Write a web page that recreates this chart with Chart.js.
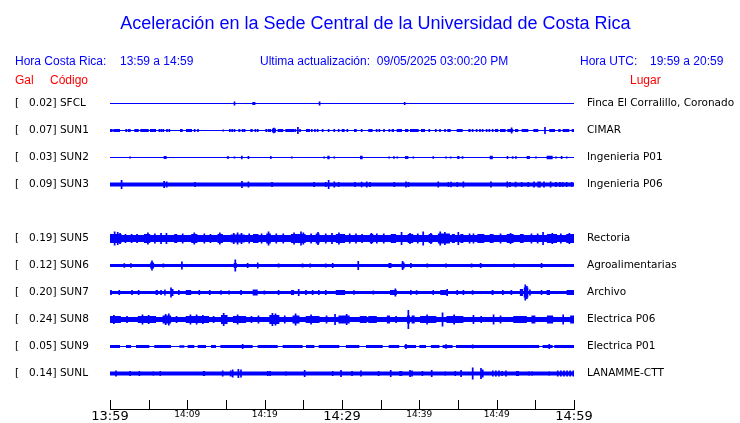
<!DOCTYPE html>
<html><head><meta charset="utf-8">
<script src="https://cdn.jsdelivr.net/npm/chart.js@4/dist/chart.umd.min.js"></script>
<style>
html,body{margin:0;padding:0;background:#fff;}
#wrap{position:relative;width:740px;height:423px;overflow:hidden;background:#fff;}
#c{position:absolute;left:0;top:0;}
.t{position:absolute;font-family:"Liberation Sans",Arial,sans-serif;white-space:pre;line-height:1;}
.b{color:#0000ff;font-size:12px;}
.r{color:#ff0000;font-size:12px;}
</style></head><body>
<div id="wrap">
<canvas id="c" width="740" height="423"></canvas>
<div class="t" style="left:0;width:751px;text-align:center;top:14px;font-size:18px;color:#0000ff">Aceleración en la Sede Central de la Universidad de Costa Rica</div>
<div class="t b" style="left:15px;top:55px">Hora Costa Rica:</div>
<div class="t b" style="left:120px;top:55px">13:59 a 14:59</div>
<div class="t b" style="left:260px;top:55px">Ultima actualización:  09/05/2025 03:00:20 PM</div>
<div class="t b" style="left:580px;top:55px">Hora UTC:</div>
<div class="t b" style="left:650px;top:55px">19:59 a 20:59</div>
<div class="t r" style="left:15px;top:74px">Gal</div>
<div class="t r" style="left:50px;top:74px">Código</div>
<div class="t r" style="left:630px;top:74px">Lugar</div>
</div>
<script>
// ---- data ----
const rowIndex = [0, 1, 2, 3, 5, 6, 7, 8, 9, 10];
const codes  = ['SFCL', 'SUN1', 'SUN2', 'SUN3', 'SUN5', 'SUN6', 'SUN7', 'SUN8', 'SUN9', 'SUNL'];
const gal    = [0.02, 0.07, 0.03, 0.09, 0.19, 0.12, 0.20, 0.24, 0.05, 0.14];
const places = ['Finca El Corralillo, Coronado', 'CIMAR', 'Ingenieria P01', 'Ingenieria P06',
                'Rectoria', 'Agroalimentarias', 'Archivo', 'Electrica P06', 'Electrica P01', 'LANAMME-CTT'];
const tickLabels = ['13:59', '', '14:09', '', '14:19', '', '14:29', '', '14:39', '', '14:49', '', '14:59'];
// background (noise) half-amplitude per trace
const baseAmp = [0.5, 0.5, 0.5, 2, 3.5, 1.5, 1.5, 2.5, 0.5, 2];
// events: [minute, amp] = short spike ; [startMinute, endMinute, amp] = burst
const evSFCL = [[16.1,2],[18.4,18.8,1.5],[27.1,2],[38.1,1.5]];
const evSUN1 = [[0,0.35,1.5],[0.43,1.29,1.5],[1.98,2.24,1.5],[2.33,2.67,1.5],[3.15,3.71,1.5],[3.92,5.0,1.5],[5.17,5.95,1.5],
 [6.38,1.5],[6.64,1.5],[6.9,1.5],[7.37,1.5],[7.67,1.5],[9.05,9.4,1.5],[9.83,10.6,1.5],[10.95,1.5],[11.38,1.5],[14.65,1],
 [15.5,1.5],[15.8,1.5],[16.1,1.5],[16.6,16.85,1.5],[17.15,1.5],[17.4,1.5],[18.15,18.45,1.5],[18.8,1.5],[19.1,1.5],[20.2,1.5],
 [20.5,1.5],[20.73,1.5],[20.95,21.46,2],[21.2,2.8],[21.68,22.4,1.5],[22.67,23.6,1.5],[23.7,1.5],[23.96,1.5],[24.3,3.5],[24.57,1.5],
 [25.34,25.86,1.5],[25.99,26.2,1.5],[26.5,1.5],[26.85,1.5],[27.5,1.5],[28.27,1.5],[29.0,1.5],[29.57,1.5],[29.96,30.34,1.5],
 [30.69,1.5],[31.55,31.9,1.5],[32.54,1.5],[33.4,33.96,1.5],[34.48,1.5],[34.83,1.5],[35.43,1.5],[36.12,1.5],[36.42,36.72,1.5],
 [37.07,37.76,1.5],[38.15,38.58,1.5],[38.79,39.91,1.5],[40.21,40.73,1.5],[41.29,1.5],[42.02,42.24,1.5],[42.67,1.5],[43.32,1.5],
 [43.62,44.05,1.5],[44.83,45.6,1.5],[46.33,46.63,1.5],[46.89,1.5],[47.41,1.5],[47.84,1.5],[48.19,1.5],[48.7,1.5],[49.05,1.5],
 [49.48,1.5],[49.78,50.21,1.5],[50.43,51.16,1.5],[51.38,52.15,1.5],[51.93,3],[52.37,52.8,1.5],[53.23,54.09,1.5],[54.74,55.38,1.5],
 [56.25,3.5],[56.8,57.54,1.5],[57.97,58.27,1.5],[58.53,59.39,1.5],[59.7,60,1.5]];
const evSUN2 = [[2.6,1],[6.94,7.33,1.5],[15.1,15.4,1.2],[16.1,1],[16.94,17.15,1.8],[17.9,1.5],[20.7,20.9,1.5],[23.5,1],[27.7,1],
 [28.1,28.4,1.8],[29.0,1],[32.33,32.67,1.7],[36.1,1],[36.72,1.2],[37.15,1],[38.15,38.58,1.5],[39.22,1],[41.8,1.2],[43.45,1],
 [44.05,1],[44.9,45.2,1.5],[45.47,45.7,1.3],[49.1,49.5,1.7],[51.3,51.5,1.5],[52.07,1.2],[52.37,52.6,1.3],[53.88,54.3,1.5],
 [55.08,1],[56.46,57.24,1.7],[57.67,1],[58.4,1.5],[59.05,1]];
const evSUN3 = [[1.5,4.5],[7.0,3.5],[7.33,3],[11.0,2.5],[17.07,3.5],[17.9,3],[20.95,2.5],[26.4,2.5],[27.9,2.5],[28.27,4.5],[29.0,3],
 [29.57,2.5],[31.68,2.5],[32.54,2.8],[33.2,3],[33.62,2.5],[36.77,2.5],[38.27,3],[38.58,2.5],[42.45,3],[43.75,2.5],[44.1,2.7],
 [44.9,2.5],[45.7,3],[49.26,3],[51.38,3],[51.72,2.5],[52.45,2.7],[53.23,2.5],[54.09,2.5],[54.82,3],[55.38,3],[55.6,3],[56.12,3],
 [56.98,3],[57.67,2.5],[58.18,2.5],[58.53,2.5],[59.05,2.5],[59.7,2.5]];
const evSUN5 = [[0,1.5,4.5],[0.6,7],[1.0,6.5],[1.3,5.5],[2.0,4.5],[2.8,4.5],[3.5,4.5],[4.4,5.2,4.5],[4.9,6],[5.8,5],[6.6,5.5],
 [7.3,5.5],[8.3,8.7,4.5],[9.4,5],[10.5,11.3,4.5],[10.9,6],[12.2,5],[13.0,4.5],[13.9,14.6,4.5],[14.2,6],[15.6,17.4,4],[16.0,5.5],[16.5,6],
 [17.0,5.5],[18.0,5],[18.5,19.2,4.5],[19.6,5],[20.2,20.8,5],[20.5,7],[21.5,5],[22.4,5],[23.4,25.3,4.5],[23.8,6],[24.7,7],[25.0,6],
 [26.0,5],[26.6,27.1,5],[26.9,6.5],[27.9,5],[28.7,5.5],[29.2,30.4,4.5],[29.6,6],[31.0,5],[31.8,5],[32.6,4.5],[33.6,34.05,4.5],[33.8,5.5],[34.5,5],
 [35.4,5],[36.3,37.0,4.5],[37.7,6.5],[38.5,39.2,4.5],[38.8,5.5],[39.8,5],[40.5,7],[41.2,41.7,4.5],[41.5,5.5],[42.4,43.96,5],[42.7,7],[43.3,6.5],
 [44.2,44.6,4.5],[45.04,6.5],[45.3,45.7,4.5],[46.5,5],[47.0,5],[47.5,48.4,4.5],[49.1,49.6,4.5],[50.5,5],[51.3,52.2,4.5],[51.8,5.5],[53.0,53.5,4.5],
 [54.5,5],[55.3,5],[56.0,6.5],[56.5,57.8,4.5],[57.2,5.5],[58.3,5],[59.0,60,4.5],[59.4,5.5]];
const evSUN6 = [[1.85,2.2],[2.7,2.2],[5.2,5.7,3],[5.43,5],[6.9,2],[9.2,9.4,3],[9.3,4],[16.2,6],[16.0,16.4,2.5],[17.8,2.5],
 [19.0,19.2,3],[21.8,2],[24.9,2],[25.9,2],[27.9,2],[28.8,2.5],[32.1,4.5],[36.0,36.4,2.5],[37.84,4.5],[37.7,38.1,3],[38.9,2.5],
 [41.03,2],[43.45,2],[46.76,2],[47.93,2.5],[52.24,2],[55.8,2.5]];
const evSUN7 = [[0.13,2.5],[1.2,2.5],[2.85,2.5],[3.7,2.5],[5.9,6.2,2.5],[6.6,2.5],[7.0,7.2,3],[7.89,5],[8.1,3.5],[8.9,2.5],
 [9.8,10.5,2.5],[11.55,2.5],[12.9,2.5],[14.35,2.2],[15.4,2],[16.94,2.5],[18.45,19.1,3],[19.96,2],[21.8,2.5],[23.4,23.8,2.5],
 [24.4,3.5],[25.34,2.5],[26.2,2.5],[27.0,2.5],[27.9,2.5],[29.2,30.4,2.5],[31.55,2.3],[34.05,2],[36.2,37.1,2.5],[36.9,4],
 [38.8,39.0,2.5],[39.65,2.2],[41.7,41.9,2.5],[42.7,43.5,2.5],[43.6,3.5],[44.9,2.5],[45.7,2.5],[46.9,2.2],[49.35,49.6,2.5],
 [50.8,2.5],[51.9,2.5],[53.0,53.4,3.5],[53.5,54.1,5],[53.7,8],[53.9,6.5],[54.3,3],[55.8,2.5],[56.46,56.9,2.5],[59.05,60,2.5]];
const evSUN8 = [[0,1.4,3.5],[0.5,4.5],[2.2,3.5],[3.6,5.95,3.5],[4.2,5],[5.0,4.5],[6.8,7.9,4],[7.2,5.5],[7.6,6],[8.6,3.5],
 [9.8,12.8,3.5],[10.4,5],[11.2,5],[12.0,4.5],[13.4,3.5],[14.35,15.2,4.5],[14.7,6.5],[15.9,17.6,3.5],[16.5,5],[18.3,3.5],[19.2,4],
 [20.6,21.9,4.5],[21.0,6.5],[21.4,6],[22.6,4],[23.6,24.5,4],[24.0,6],[25.3,27.1,3.5],[26.0,5],[28.0,4],[29.1,5.5],[29.65,4],
 [29.74,31.0,4],[30.6,5.5],[32.3,33.2,3.5],[33.4,34.5,3.5],[35.8,36.2,4],[37.0,3.5],[38.4,38.8,4],[38.58,9.5],[39.0,39.4,4],
 [40.1,42.2,3.5],[41.0,5],[43.0,7],[43.5,45.7,3.5],[44.5,5],[47.0,4.5],[48.0,3.5],[49.6,5],[50.5,4],[52.15,53.9,3.5],[54.5,55.0,4],
 [56.5,57.3,4],[58.6,5],[59.5,60,4]];
const evSUN9 = [[0,1.29,1.5],[2.07,2.72,1.5],[3.36,5.09,1.5],[5.73,7.89,1.5],[8.97,9.6,1.2],[10.04,10.9,1.5],[11.34,12.41,1.5],
 [13.06,13.71,1.5],[14.27,18.45,1.5],[17.15,2.5],[19.09,21.68,1.5],[22.33,24.91,1.5],[25.34,26.42,1.5],[26.98,29.65,1.5],
 [30.5,32.24,1.5],[33.1,35.26,1.5],[36.03,37.4,1.5],[38.06,39.57,1.5],[38.27,2.5],[40.0,40.86,1.5],[41.5,42.6,1.5],
 [43.0,44.3,1.5],[43.45,2.2],[44.74,55.5,1.5],[46.9,2],[55.94,57.24,1.5],[56.8,2.5],[57.45,60,1.5]];
const evSUNL = [[0.78,3],[2.6,2.5],[3.8,2.5],[5.6,2.2],[6.4,6.6,2.5],[12.0,12.3,2.5],[14.57,3],[15.6,3],[15.86,4],[16.6,4.5],
 [16.94,4],[20.4,2.5],[20.7,2.5],[22.76,2.2],[25.17,3.5],[28.8,2.5],[29.87,3.5],[31.3,2.5],[32.45,3],[34.74,2.5],[36.3,3.5],
 [37.4,37.8,2.5],[38.8,3.5],[39.05,3],[40.4,2.5],[41.6,3.5],[43.36,2.2],[44.65,2.5],[45.4,3.5],[46.9,6],[47.97,5.5],[48.2,4],
 [49.5,3],[49.9,3],[50.3,3],[50.7,2.5],[51.2,3],[52.5,52.9,2.5],[54.2,2.2],[54.6,2.2],[56.8,2.2],[57.9,3],[58.3,3],[58.7,3],
 [59.1,3],[59.5,3],[59.9,3]];
const events = [evSFCL, evSUN1, evSUN2, evSUN3, evSUN5, evSUN6, evSUN7, evSUN8, evSUN9, evSUNL];

// ---- build ----
const SPIKE_W = 0.22;     // minutes
const AMP_PER_ROW = 27;   // amplitude units per trace spacing
function envelope(base, evs) {
  const ev = evs.map(e => e.length === 2 ? [e[0] - SPIKE_W / 2, e[0] + SPIKE_W / 2, e[1]] : e);
  const bp = new Set([0, 60]);
  ev.forEach(e => { bp.add(Math.max(0, e[0])); bp.add(Math.min(60, e[1])); });
  const xs = [...bp].sort((a, b) => a - b);
  return xs.map((x, k) => {
    const probe = k < xs.length - 1 ? (x + xs[k + 1]) / 2 : x - 1e-6;
    let a = base;
    ev.forEach(e => { if (probe >= e[0] && probe <= e[1]) a = Math.max(a, e[2]); });
    return { x, a };
  });
}
const datasets = [];
rowIndex.forEach((r, i) => {
  const env = envelope(baseAmp[i], events[i]);
  [-1, 1].forEach(sgn => {
    datasets.push({
      label: codes[i] + (sgn < 0 ? '+' : '-'),
      data: env.map(p => ({ x: p.x, y: r + sgn * p.a / AMP_PER_ROW })),
      stepped: true, borderWidth: 0, borderColor: 'rgba(0,0,0,0)',
      backgroundColor: '#0000ff', pointRadius: 0, pointHoverRadius: 0, pointBorderWidth: 0,
      fill: sgn < 0 ? '+1' : false
    });
  });
});
const leftLabel = v => { const i = rowIndex.indexOf(Math.round(v)); return i < 0 ? '' : '[' + gal[i].toFixed(2).padStart(7, ' ') + '] ' + codes[i]; };
const rightLabel = v => { const i = rowIndex.indexOf(Math.round(v)); return i < 0 ? '' : places[i]; };

const tickMarks = {
  id: 'tickMarks',
  afterDraw(chart) {
    const s = chart.scales.x, ctx = chart.ctx, b = chart.chartArea.bottom;
    ctx.save(); ctx.strokeStyle = '#000'; ctx.lineWidth = 1;
    s.ticks.forEach(t => {
      const px = Math.round(s.getPixelForValue(t.value)) + 0.5;
      ctx.beginPath(); ctx.moveTo(px, b - 9); ctx.lineTo(px, b); ctx.stroke();
    });
    ctx.restore();
  }
};
const yRange = { min: -0.5, max: -0.5 + 319 / 27 };
new Chart(document.getElementById('c'), {
  type: 'line',
  data: { datasets },
  plugins: [tickMarks],
  options: {
    responsive: false, animation: false, devicePixelRatio: 1,
    layout: { autoPadding: false, padding: { left: 15, top: 90, right: 0, bottom: 0 } },
    plugins: { legend: { display: false }, tooltip: { enabled: false }, title: { display: false } },
    elements: { line: { tension: 0 } },
    scales: {
      x: {
        type: 'linear', min: 0, max: 60, position: 'bottom',
        afterBuildTicks: s => { s.ticks = tickLabels.map((_, i) => ({ value: i * 5 })); },
        afterFit: s => { s.height = 14; },
        ticks: {
          autoSkip: false, maxRotation: 0, minRotation: 0, padding: 0, color: '#000',
          callback: v => tickLabels[Math.round(v / 5)],
          font: ctx => (ctx.tick && ctx.tick.value % 30 === 0) ? { family: 'DejaVu Sans', size: 13 } : { family: 'DejaVu Sans', size: 9 }
        },
        grid: { display: false, drawTicks: false },
        border: { display: true, color: '#000', width: 1 }
      },
      y: {
        type: 'linear', reverse: true, position: 'left', min: yRange.min, max: yRange.max,
        afterBuildTicks: s => { s.ticks = rowIndex.map(v => ({ value: v })); },
        afterFit: s => { s.width = 95; },
        ticks: { autoSkip: false, crossAlign: 'far', padding: 0, color: '#000', font: { family: 'DejaVu Sans', size: 10.5 }, callback: leftLabel },
        grid: { display: false, drawTicks: false }, border: { display: false }
      },
      y2: {
        type: 'linear', reverse: true, position: 'right', min: yRange.min, max: yRange.max,
        afterBuildTicks: s => { s.ticks = rowIndex.map(v => ({ value: v })); },
        afterFit: s => { s.width = 166; },
        ticks: { autoSkip: false, crossAlign: 'near', padding: 0, color: '#000', font: { family: 'DejaVu Sans', size: 10.5 }, callback: rightLabel },
        grid: { display: true, drawOnChartArea: false, drawTicks: true, tickLength: 13, color: 'rgba(0,0,0,0)' },
        border: { display: false }
      }
    }
  }
});
</script>
</body></html>
